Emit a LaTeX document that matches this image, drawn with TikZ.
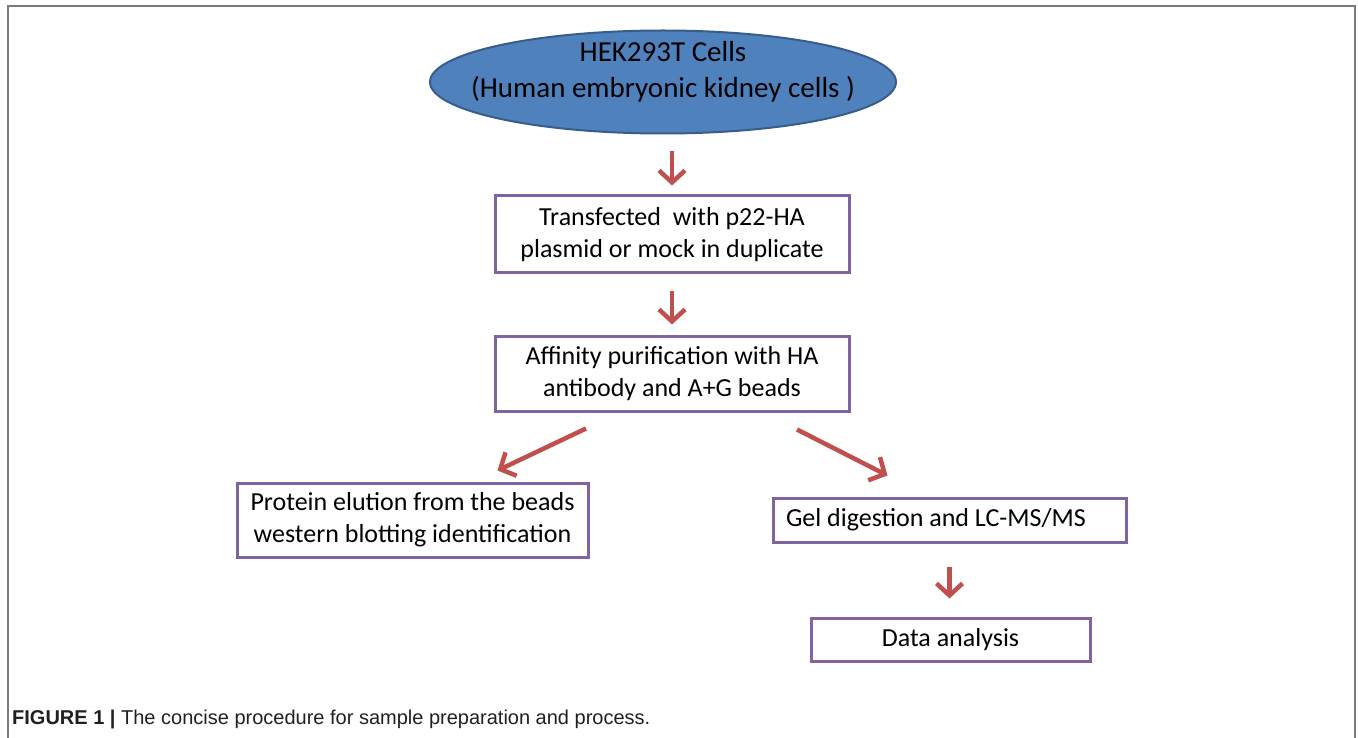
\documentclass[tikz,border=0pt]{standalone}
\usepackage{fontspec}
\setmainfont{Carlito}
\newfontfamily\capfont{Liberation Sans}
\usetikzlibrary{arrows.meta,shapes.geometric}
\definecolor{cellblue}{HTML}{4F81BD}
\definecolor{celledge}{HTML}{385D8A}
\definecolor{flowred}{HTML}{C0504D}
\definecolor{boxpurple}{HTML}{8064A2}
\definecolor{framegray}{HTML}{7A7A7A}
\definecolor{captext}{HTML}{231F20}

\begin{document}
\begin{tikzpicture}[x=1pt,y=-1pt,
        box/.style={draw=boxpurple,line width=3pt,align=center,inner sep=0pt,
            font=\fontsize{26}{32}\selectfont},
        flow/.style={draw=flowred,line width=4.5pt,
            -{Straight Barb[length=12pt,width=26pt]}}]
    \useasboundingbox (0,0) rectangle (1358,738);

    % frame
    \draw[framegray,line width=2pt] (7.5,745) -- (7.5,6.5) -- (1355,6.5) -- (1355,745);

    % cells
    \node[ellipse,fill=cellblue,draw=celledge,line width=2pt,minimum width=466pt,
        minimum height=103pt,inner sep=0pt] (cells) at (663,82) {};
    \node[align=center,inner sep=0pt,font=\fontsize{29}{36}\selectfont] (cellslabel)
        at ([yshift=10pt]cells.center) {HEK293T Cells\\(Human embryonic kidney cells )};

    % steps
    \node[box,minimum width=354pt,minimum height=77pt] (trans) at (672,234.5)
        {Transfected~ with p22-HA\\plasmid or mock in duplicate};
    \node[box,minimum width=354pt,minimum height=75pt] (purif) at (672,373.5)
        {Affinity purification with HA\\antibody and A+G beads};
    \node[box,minimum width=351pt,minimum height=74pt] (elution) at (412.5,520)
        {Protein elution from the beads\\western blotting identification};
    \node[box,align=flush left,text width=327pt,inner xsep=13pt,minimum height=44pt] (gel) at (949.5,520)
        {Gel digestion and LC-MS/MS};
    \node[box,minimum width=279pt,minimum height=43pt] (data) at (950.5,639.5)
        {Data analysis};

    % arrows
    \draw[flow,shorten <=17pt,shorten >=9pt] (cells.south -| trans.north) -- (trans.north);
    \draw[flow,shorten <=17pt,shorten >=10pt] (trans.south) -- (purif.north);
    \draw[flow] ([xshift=-86pt,yshift=-16pt]purif.south) -- ([xshift=85pt,yshift=11pt]elution.north);
    \draw[flow] ([xshift=125pt,yshift=-17pt]purif.south) -- ([xshift=-62pt,yshift=21pt]gel.north);
    \draw[flow,shorten <=23pt,shorten >=18pt] (gel.south) -- (gel.south |- data.north);

    % caption
    \node[anchor=base west,inner sep=0pt,text=captext,font=\capfont\fontsize{20}{24}\selectfont]
        (caption) at (12,724) {\textbf{FIGURE 1 |} The concise procedure for sample preparation and process.};

\end{tikzpicture}
\end{document}
